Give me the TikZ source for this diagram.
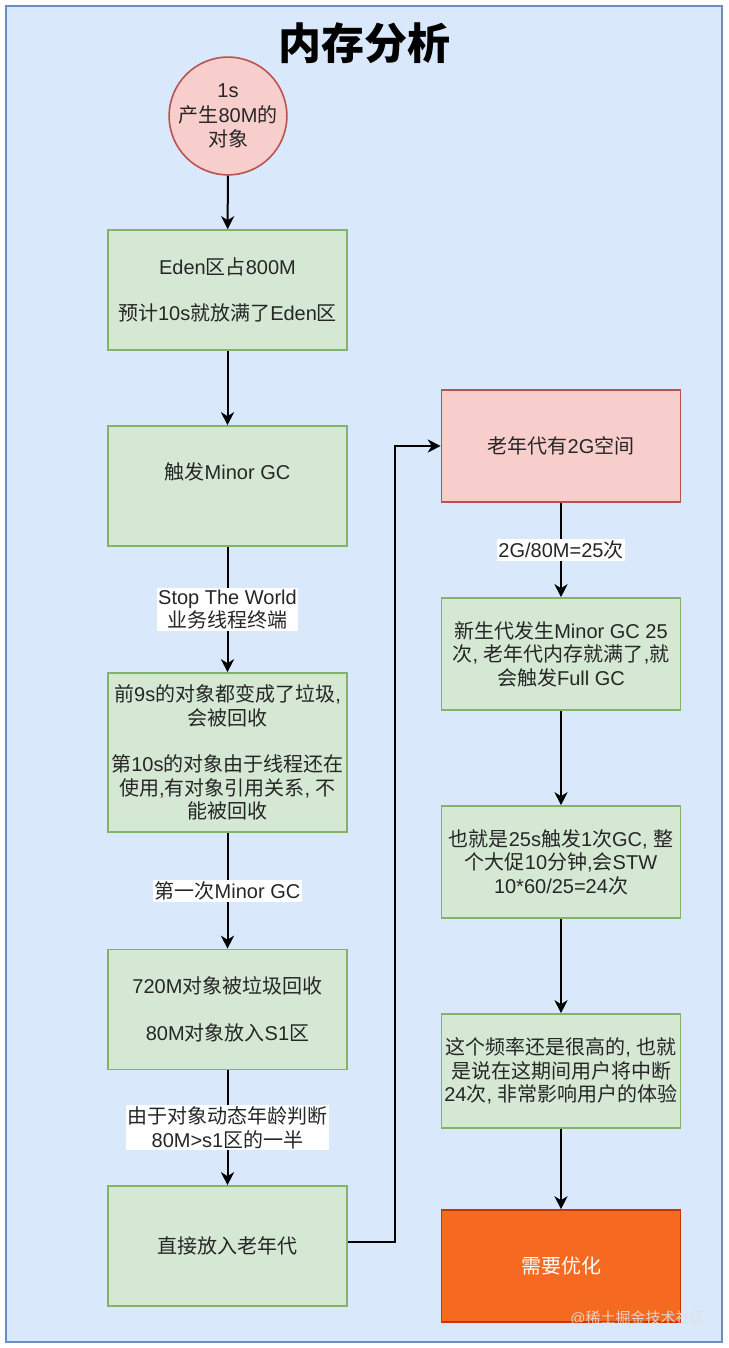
\documentclass[tikz,border=0pt]{standalone}
\usepackage{fontspec}
\setmainfont{Liberation Sans}
\newfontfamily\cjkfont{Noto Sans CJK SC}
\newfontfamily\latfont{Liberation Sans}
\usetikzlibrary{arrows.meta}
\XeTeXinterchartokenstate=1
\newXeTeXintercharclass\cjkcls
\newcount\cjkc
\cjkc="2E80
\loop \XeTeXcharclass\cjkc=\cjkcls \ifnum\cjkc<"9FFF \advance\cjkc by 1 \repeat
\cjkc="FF00
\loop \XeTeXcharclass\cjkc=\cjkcls \ifnum\cjkc<"FFEF \advance\cjkc by 1 \repeat
\XeTeXinterchartoks 0 \cjkcls = {\cjkfont}
\XeTeXinterchartoks 4095 \cjkcls = {\cjkfont}
\XeTeXinterchartoks \cjkcls 0 = {\latfont}
\XeTeXinterchartoks \cjkcls 4095 = {\latfont}
\definecolor{bgF}{HTML}{DAE8FC}
\definecolor{bgS}{HTML}{6C8EBF}
\definecolor{grnF}{HTML}{D5E8D4}
\definecolor{grnS}{HTML}{82B366}
\definecolor{redF}{HTML}{F8CECC}
\definecolor{redS}{HTML}{B85450}
\definecolor{orF}{HTML}{F56A20}
\definecolor{orS}{HTML}{C73500}
\newcommand\myfs{\fontsize{20}{23.5}\selectfont}
\tikzset{
  box/.style={draw=grnS, fill=grnF, line width=1.6pt, minimum width=239pt, minimum height=120pt, align=center, inner sep=0pt, font=\myfs, text=black!85},
  rbox/.style={box, draw=redS, fill=redF, minimum height=112pt},
  gbox/.style={box, minimum height=112pt},
  obox/.style={box, draw=orS, fill=orF, minimum height=112pt, text=white},
  arr/.style={-{Stealth[length=13pt,width=13pt,inset=4pt]}, line width=2pt},
  lbl/.style={fill=white, inner sep=1.5pt, align=center, font=\myfs, text=black!85},
}
\begin{document}
\begin{tikzpicture}[x=1pt,y=-1pt]
\path[use as bounding box, fill=white] (0,0) rectangle (728,1348);
\draw[fill=bgF, draw=bgS, line width=1.6pt] (6,6) rectangle (722,1342);
\node[font=\fontsize{43}{50}\selectfont\bfseries] (title) at (364,43) {内存分析};
\node[circle, draw=redS, fill=redF, line width=1.6pt, minimum size=104pt, inner sep=0pt, align=center, text=black!85, font=\fontsize{20}{24.5}\selectfont] (c) at (228,116) {1s\\产生80M的\\对象};
\node[box] (b1) at (227.5,290) {Eden区占800M\\[23pt]预计10s就放满了Eden区};
\node[box] (b2) at (227.5,486) {触发Minor GC\\ \strut};
\node[box, minimum height=159pt] (b3) at (227.5,752.5) {前9s的对象都变成了垃圾,\\会被回收\\[23pt]第10s的对象由于线程还在\\使用,有对象引用关系, 不\\能被回收};
\node[box] (b4) at (227.5,1009.5) {720M对象被垃圾回收\\[23pt]80M对象放入S1区};
\node[box] (b5) at (227.5,1246) {直接放入老年代};
\node[rbox] (r1) at (561,446) {老年代有2G空间};
\node[gbox] (r2) at (561,654) {新生代发生Minor GC 25\\次, 老年代内存就满了,就\\会触发Full GC};
\node[gbox] (r3) at (561,862) {也就是25s触发1次GC, 整\\个大促10分钟,会STW\\10*60/25=24次};
\node[gbox, minimum height=114pt] (r4) at (561,1071) {这个频率还是很高的, 也就\\是说在这期间用户将中断\\24次, 非常影响用户的体验};
\node[obox] (r5) at (561,1266) {需要优化};
\draw[arr] (c) -- (b1);
\draw[arr] (b1) -- (b2);
\draw[arr] (b2) -- node[lbl] (l1) {Stop The World\\业务线程终端} (b3);
\draw[arr] (b3) -- node[lbl] (l2) {第一次Minor GC} (b4);
\draw[arr] (b4) -- node[lbl] (l3) {由于对象动态年龄判断\\80M>s1区的一半} (b5);
\coordinate (k) at (395,1242);
\draw[arr] (b5.east |- k) -- (k) |- (r1.west);
\draw[arr] (r1) -- node[lbl] (l4) {2G/80M=25次} (r2);
\draw[arr] (r2) -- (r3);
\draw[arr] (r3) -- (r4);
\draw[arr] (r4) -- (r5);
\node[text=white!75!gray, opacity=0.9, font=\fontsize{15}{18}\selectfont] (wm) at (638,1318) {@稀土掘金技术社区};
\end{tikzpicture}
\end{document}
